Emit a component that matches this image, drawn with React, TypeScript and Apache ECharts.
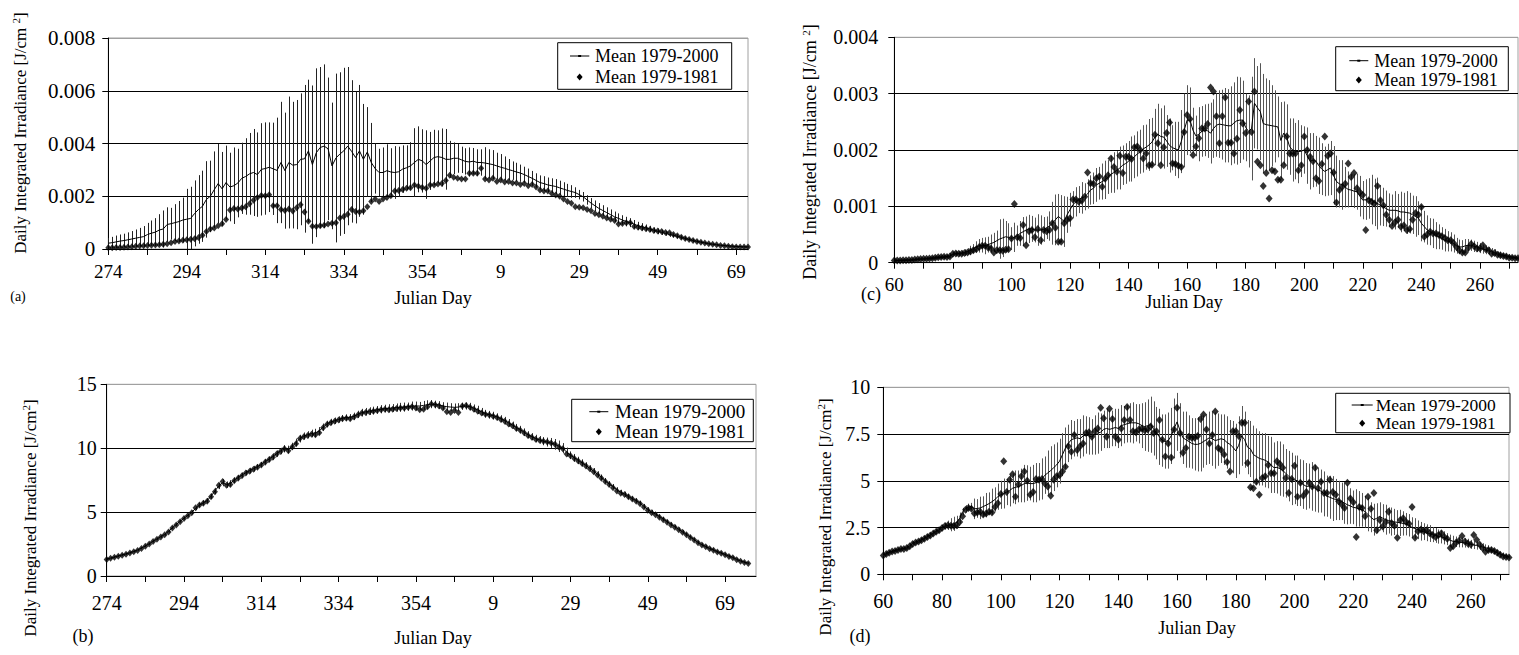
import React, { useEffect, useRef } from "react";
import * as echarts from "echarts";

const FONT = "Liberation Serif, Times New Roman, serif";
const range = (a: number, b: number) => Array.from({ length: b - a + 1 }, (_, i) => a + i);

// Categories (Julian days)
const daysA = [...range(274, 365), ...range(1, 72)].map(String);
const daysB = [...range(274, 365), ...range(1, 77)].map(String);
const daysCD = range(60, 273).map(String);

// Panel (a): values in units of 1e-4 J/cm2
const meanA_e4 = [
  2.2, 2.4, 2.7, 3.0, 3.2, 3.5, 3.8, 4.1, 4.4, 4.7,
  5.5, 6.0, 6.4, 7.2, 7.6, 9.3, 9.6, 10.0, 10.4, 11.0,
  11.3, 11.6, 13.5, 15.0, 16.2, 18.8, 20.0, 22.5, 24.8, 22.8,
  25.2, 23.5, 24.0, 25.0, 26.8, 27.5, 28.5, 29.0, 28.2, 30.2,
  30.5, 31.0, 30.4, 29.8, 32.8, 29.7, 32.8, 31.8, 32.0, 34.0,
  34.2, 37.2, 32.0, 36.5, 38.5, 39.0, 38.0, 31.5, 34.5, 36.0,
  37.2, 39.0, 37.0, 34.7, 37.2, 34.0, 36.8, 32.8, 30.5, 29.0,
  29.0, 29.7, 29.2, 29.0, 29.3, 30.3, 30.8, 31.5, 32.8, 34.0,
  33.4, 32.0, 33.4, 34.7, 35.0, 34.7, 34.0, 34.0, 34.4, 34.4,
  33.8, 33.2, 33.0, 33.3, 32.8, 32.8, 32.6, 32.3, 32.0, 31.5,
  31.0, 30.6, 30.1, 29.7, 29.2, 28.8, 28.2, 27.5, 26.8, 26.0,
  25.2, 24.8, 24.3, 24.0, 23.7, 23.2, 22.7, 22.2, 21.8, 21.4,
  20.6, 19.8, 18.6, 17.4, 16.4, 15.4, 14.6, 13.8, 13.0, 12.2,
  11.6, 11.0, 10.4, 10.0, 9.4, 8.8, 8.4, 8.0, 7.6, 7.1,
  6.7, 6.3, 5.9, 5.5, 5.2, 4.8, 4.4, 4.0, 3.6, 3.2,
  2.9, 2.6, 2.3, 2.0, 1.8, 1.6, 1.4, 1.3, 1.2, 1.1,
  1.0, 0.9, 0.8, 0.8,
];
const stdA_e4 = [
  2.0, 2.2, 2.4, 2.5, 2.6, 2.8, 3.0, 3.3, 3.6, 4.0,
  4.4, 4.8, 5.3, 6.0, 7.0, 6.5, 6.0, 7.0, 7.8, 8.5,
  11.5, 12.0, 12.5, 13.0, 13.5, 14.5, 13.5, 14.5, 15.0, 14.0,
  14.0, 13.0, 14.5, 13.0, 13.5, 14.5, 15.5, 16.5, 16.0, 17.5,
  17.5, 17.0, 17.5, 20.0, 23.0, 22.0, 25.0, 24.0, 24.5, 25.0,
  28.0, 27.0, 30.0, 32.0, 30.5, 31.0, 27.0, 24.0, 32.0, 31.0,
  31.5, 30.0, 27.0, 25.0, 25.0, 21.0, 17.0, 15.0, 9.5, 9.0,
  9.5, 10.0, 9.0, 10.0, 9.5, 9.0, 8.5, 9.0, 13.0, 12.5,
  12.0, 13.0, 11.0, 10.5, 10.0, 11.0, 11.5, 7.0, 6.0, 5.5,
  5.0, 5.0, 5.5, 5.0, 5.0, 5.0, 6.0, 5.5, 5.5, 5.0,
  5.0, 4.5, 4.0, 3.5, 3.5, 3.2, 3.0, 3.0, 2.8, 2.7,
  2.7, 2.8, 2.8, 2.8, 2.8, 2.7, 2.6, 2.5, 2.4, 2.0,
  1.8, 1.8, 1.8, 1.9, 2.0, 2.0, 2.0, 2.0, 2.0, 2.0,
  1.9, 1.8, 1.8, 1.7, 1.6, 1.5, 1.4, 1.3, 1.2, 1.1,
  1.1, 1.0, 0.9, 0.9, 0.8, 0.8, 0.7, 0.7, 0.6, 0.6,
  0.5, 0.5, 0.4, 0.4, 0.4, 0.3, 0.3, 0.3, 0.3, 0.2,
  0.2, 0.2, 0.2, 0.2,
];
const diamA_e4 = [
  0.5, 0.5, 0.6, 0.6, 0.7, 0.8, 0.9, 1.0, 1.1, 1.2,
  1.3, 1.4, 1.5, 1.6, 1.8, 2.0, 2.4, 2.8, 3.0, 3.3,
  3.5, 3.7, 3.9, 4.4, 5.2, 6.6, 7.6, 8.0, 8.8, 9.6,
  11.2, 14.8, 15.4, 15.2, 15.5, 16.0, 17.2, 18.5, 19.5, 20.3,
  20.2, 20.6, 16.4, 16.4, 15.0, 14.6, 15.2, 14.4, 15.6, 16.8,
  14.0, 10.5, 8.6, 8.5, 8.8, 9.0, 9.5, 9.8, 10.0, 11.8,
  12.3, 13.2, 15.0, 14.2, 14.0, 14.5, 16.0, 18.0, 19.0, 18.0,
  19.0, 19.5, 20.2, 22.0, 22.2, 22.6, 23.0, 23.2, 24.3, 23.8,
  23.3, 23.0, 24.3, 24.3, 24.6, 24.8, 26.0, 28.0, 27.2, 26.8,
  26.5, 26.5, 28.7, 28.7, 28.7, 30.6, 26.5, 26.2, 26.8, 25.6,
  26.2, 25.4, 25.6, 25.0, 25.0, 24.5, 24.8, 24.0, 24.5, 23.5,
  22.4, 22.0, 22.0, 21.0, 20.5, 20.0, 19.0, 18.0, 17.3, 16.0,
  15.8, 15.6, 15.0, 14.5, 13.5, 13.0, 12.4, 11.8, 11.3, 10.8,
  9.5, 9.7, 10.0, 10.0, 8.5, 8.2, 8.0, 7.7, 7.4, 7.0,
  6.8, 6.6, 6.3, 6.2, 5.5, 5.0, 4.5, 4.0, 3.6, 3.2,
  2.8, 2.6, 2.3, 2.0, 1.8, 1.6, 1.3, 1.2, 1.0, 0.9,
  0.8, 0.8, 0.8, 0.8,
];

// Panel (b): J/cm2
const meanB = [
  1.33, 1.40, 1.48, 1.57, 1.65, 1.73, 1.82, 1.92, 2.04, 2.18,
  2.35, 2.52, 2.72, 2.90, 3.08, 3.25, 3.50, 3.78, 4.02, 4.28,
  4.52, 4.75, 4.98, 5.30, 5.55, 5.72, 5.90, 6.25, 6.65, 7.05,
  7.30, 7.15, 7.25, 7.50, 7.70, 7.90, 8.08, 8.25, 8.40, 8.55,
  8.72, 8.95, 9.15, 9.35, 9.58, 9.78, 9.95, 9.90, 10.15, 10.45,
  10.75, 10.95, 11.05, 11.15, 11.20, 11.35, 11.65, 11.90, 12.05, 12.15,
  12.25, 12.35, 12.40, 12.42, 12.50, 12.65, 12.78, 12.85, 12.90, 12.95,
  13.00, 13.05, 13.10, 13.12, 13.15, 13.18, 13.20, 13.22, 13.25, 13.30,
  13.30, 13.30, 13.35, 13.40, 13.45, 13.42, 13.38, 13.30, 13.25, 13.22,
  13.20, 13.22, 13.28, 13.30, 13.25, 13.12, 13.00, 12.85, 12.70, 12.62,
  12.55, 12.45, 12.30, 12.15, 11.98, 11.80, 11.62, 11.45, 11.25, 11.05,
  10.90, 10.75, 10.65, 10.55, 10.48, 10.40, 10.30, 10.15, 10.00, 9.70,
  9.45, 9.25, 9.05, 8.85, 8.65, 8.42, 8.20, 7.95, 7.72, 7.45,
  7.20, 7.00, 6.75, 6.55, 6.40, 6.22, 6.05, 5.90, 5.70, 5.45,
  5.20, 5.00, 4.85, 4.65, 4.45, 4.25, 4.05, 3.85, 3.65, 3.45,
  3.25, 3.05, 2.85, 2.62, 2.45, 2.30, 2.15, 2.05, 1.90, 1.80,
  1.68, 1.55, 1.45, 1.30, 1.18, 1.08, 1.00,
];
const stdB = [
  0.08, 0.08, 0.08, 0.08, 0.08, 0.08, 0.08, 0.08, 0.08, 0.08,
  0.10, 0.10, 0.10, 0.10, 0.10, 0.10, 0.10, 0.10, 0.10, 0.10,
  0.12, 0.12, 0.15, 0.15, 0.18, 0.20, 0.20, 0.22, 0.25, 0.25,
  0.28, 0.25, 0.25, 0.22, 0.22, 0.20, 0.20, 0.22, 0.22, 0.20,
  0.20, 0.22, 0.22, 0.25, 0.25, 0.25, 0.28, 0.30, 0.28, 0.30,
  0.30, 0.28, 0.28, 0.30, 0.32, 0.30, 0.28, 0.25, 0.25, 0.25,
  0.25, 0.25, 0.25, 0.25, 0.28, 0.28, 0.30, 0.30, 0.30, 0.30,
  0.30, 0.32, 0.30, 0.32, 0.30, 0.32, 0.35, 0.35, 0.32, 0.35,
  0.35, 0.32, 0.35, 0.35, 0.32, 0.30, 0.30, 0.30, 0.32, 0.30,
  0.30, 0.30, 0.28, 0.28, 0.30, 0.30, 0.32, 0.30, 0.30, 0.30,
  0.30, 0.28, 0.28, 0.30, 0.30, 0.28, 0.28, 0.30, 0.30, 0.28,
  0.28, 0.30, 0.30, 0.32, 0.35, 0.40, 0.42, 0.45, 0.40, 0.35,
  0.30, 0.30, 0.28, 0.28, 0.25, 0.25, 0.25, 0.25, 0.22, 0.22,
  0.22, 0.20, 0.20, 0.20, 0.20, 0.20, 0.18, 0.18, 0.18, 0.18,
  0.18, 0.18, 0.16, 0.16, 0.16, 0.15, 0.15, 0.15, 0.14, 0.14,
  0.14, 0.13, 0.13, 0.12, 0.12, 0.12, 0.11, 0.11, 0.10, 0.10,
  0.10, 0.10, 0.09, 0.09, 0.08, 0.08, 0.08,
];
const diamB = [
  1.30, 1.38, 1.47, 1.55, 1.62, 1.70, 1.80, 1.90, 2.00, 2.15,
  2.32, 2.50, 2.70, 2.88, 3.05, 3.22, 3.45, 3.75, 4.00, 4.25,
  4.50, 4.72, 4.95, 5.35, 5.55, 5.70, 5.85, 6.20, 6.60, 7.10,
  7.40, 7.10, 7.15, 7.45, 7.65, 7.85, 8.05, 8.20, 8.35, 8.50,
  8.68, 8.90, 9.10, 9.30, 9.55, 9.75, 9.95, 9.80, 10.10, 10.35,
  10.75, 10.90, 11.00, 11.10, 11.05, 11.20, 11.60, 11.85, 12.00, 12.10,
  12.20, 12.30, 12.35, 12.30, 12.45, 12.60, 12.75, 12.80, 12.85, 12.90,
  12.95, 13.00, 13.05, 13.00, 13.05, 13.10, 13.15, 13.15, 13.20, 13.25,
  13.15, 13.00, 13.05, 13.25, 13.45, 13.40, 13.30, 13.15, 12.85, 12.80,
  12.95, 12.80, 13.30, 13.35, 13.20, 13.05, 12.90, 12.75, 12.65, 12.60,
  12.50, 12.40, 12.25, 12.10, 11.90, 11.75, 11.55, 11.40, 11.20, 11.00,
  10.85, 10.70, 10.62, 10.55, 10.48, 10.40, 10.30, 10.10, 9.95, 9.55,
  9.40, 9.20, 9.00, 8.80, 8.60, 8.40, 8.15, 7.90, 7.65, 7.40,
  7.15, 6.90, 6.65, 6.48, 6.38, 6.20, 6.02, 5.85, 5.65, 5.40,
  5.15, 4.95, 4.80, 4.60, 4.40, 4.20, 4.00, 3.82, 3.62, 3.42,
  3.22, 3.02, 2.82, 2.60, 2.43, 2.28, 2.13, 2.02, 1.88, 1.78,
  1.66, 1.53, 1.42, 1.28, 1.15, 1.05, 0.98,
];

// Panel (c): values in units of 1e-4 J/cm2
const meanC_e4 = [
  0.35, 0.38, 0.40, 0.42, 0.45, 0.48, 0.50, 0.55, 0.60, 0.62,
  0.65, 0.70, 0.75, 0.80, 0.85, 0.90, 0.95, 1.00, 1.10, 1.20,
  1.50, 1.60, 1.60, 1.70, 1.80, 2.00, 2.20, 2.50, 2.80, 3.00,
  3.10, 3.00, 3.20, 3.40, 3.60, 3.90, 4.20, 4.40, 4.60, 4.50,
  4.30, 4.50, 4.80, 5.20, 5.50, 5.80, 6.00, 6.00, 5.80, 5.80,
  5.80, 5.90, 6.20, 6.50, 7.00, 7.60, 8.20, 7.80, 7.30, 8.50,
  9.4, 10.3, 10.8, 11.2, 11.5, 11.7, 12.2, 12.9, 13.2, 13.8,
  14.1, 14.4, 14.7, 15.2, 15.7, 16.0, 16.4, 16.8, 17.3, 17.6,
  18.0, 18.4, 18.8, 19.3, 19.7, 20.2, 20.5, 20.9, 21.4, 22.3,
  22.8, 22.4, 22.3, 21.6, 20.8, 20.4, 20.2, 20.0, 21.5, 23.5,
  25.3, 25.3, 23.5, 22.5, 22.8, 23.3, 23.5, 23.4, 23.0, 23.8,
  24.4, 24.6, 24.5, 24.4, 24.3, 24.3, 24.8, 25.2, 25.3, 25.3,
  24.0, 23.3, 23.8, 28.3, 27.5, 26.8, 24.7, 24.5, 24.4, 24.3,
  24.2, 24.1, 21.7, 23.0, 22.3, 20.6, 20.0, 19.8, 19.7, 19.8,
  20.0, 19.0, 18.0, 18.2, 18.0, 17.2, 16.6, 16.2, 16.5, 16.8,
  15.5, 14.4, 14.0, 13.8, 13.4, 13.0, 12.9, 12.7, 12.6, 11.8,
  11.1, 11.2, 11.4, 11.2, 10.7, 10.5, 10.2, 9.9, 9.6, 9.3,
  9.3, 9.3, 9.2, 9.0, 9.0, 8.9, 8.8, 8.5, 8.2, 7.9,
  7.0, 6.4, 5.8, 5.5, 5.2, 4.8, 4.6, 4.3, 4.0, 3.8,
  3.7, 3.4, 3.0, 2.8, 2.8, 3.0, 3.1, 3.1, 2.9, 2.8,
  2.6, 2.4, 2.3, 2.1, 2.0, 1.8, 1.5, 1.4, 1.3, 1.2,
  1.1, 1.0, 0.9, 0.8,
];
const stdC_e4 = [
  0.1, 0.1, 0.1, 0.15, 0.15, 0.15, 0.2, 0.2, 0.2, 0.2,
  0.2, 0.25, 0.25, 0.3, 0.3, 0.3, 0.3, 0.35, 0.35, 0.4,
  0.4, 0.5, 0.5, 0.5, 0.6, 0.6, 0.8, 0.8, 1.0, 1.2,
  1.3, 1.5, 1.4, 1.6, 1.7, 1.8, 3.5, 3.4, 2.8, 2.5,
  2.0, 2.6, 1.8, 2.2, 2.6, 2.4, 2.5, 2.3, 2.2, 2.8,
  2.6, 2.2, 2.0, 2.6, 3.8, 4.5, 4.0, 4.2, 4.5, 3.2,
  3.0, 2.4, 2.6, 2.4, 2.8, 2.4, 2.6, 2.6, 2.8, 3.0,
  2.9, 3.2, 3.4, 3.0, 3.3, 3.6, 3.4, 3.8, 3.5, 3.6,
  3.6, 4.0, 3.8, 4.0, 3.9, 4.2, 4.0, 4.6, 4.3, 5.0,
  5.4, 5.0, 5.6, 4.6, 4.8, 4.0, 4.8, 5.0, 5.6, 6.5,
  6.2, 5.8, 4.0, 3.6, 4.8, 4.5, 4.6, 4.8, 5.4, 5.2,
  5.6, 6.0, 6.2, 6.6, 6.5, 7.0, 7.2, 7.8, 7.6, 7.0,
  6.0, 6.4, 9.2, 8.0, 7.4, 8.6, 8.8, 8.2, 8.0, 7.2,
  6.4, 5.4, 6.8, 5.6, 5.8, 5.0, 5.6, 5.0, 5.6, 4.6,
  4.2, 5.0, 5.0, 4.8, 4.5, 5.0, 4.6, 4.4, 4.6, 4.8,
  5.2, 4.6, 4.2, 4.4, 3.6, 3.2, 2.8, 3.0, 3.2, 3.6,
  3.4, 3.6, 3.6, 4.4, 4.2, 4.6, 3.6, 3.4, 3.2, 3.0,
  2.8, 3.4, 3.0, 3.6, 3.4, 3.8, 3.6, 3.4, 3.6, 3.0,
  3.2, 2.8, 2.6, 2.4, 2.6, 2.4, 2.2, 2.0, 2.0, 1.8,
  1.7, 1.6, 1.4, 1.3, 1.2, 1.2, 1.1, 1.0, 1.0, 0.9,
  0.9, 0.8, 0.8, 0.7, 0.6, 0.6, 0.5, 0.5, 0.4, 0.4,
  0.4, 0.3, 0.3, 0.3,
];
const diamC_e4 = [
  0.4, 0.4, 0.4, 0.45, 0.45, 0.5, 0.5, 0.55, 0.6, 0.65,
  0.7, 0.7, 0.75, 0.8, 0.9, 0.95, 1.0, 1.05, 1.0, 1.1,
  1.6, 1.65, 1.6, 1.6, 1.7, 1.8, 2.0, 2.2, 2.4, 2.8,
  3.0, 3.0, 2.7, 2.5, 1.8, 2.2, 2.2, 2.1, 2.3, 2.4,
  4.3, 10.4, 4.5, 4.4, 6.7, 3.1, 5.6, 5.8, 4.5, 6.0,
  4.0, 5.8, 5.6, 5.8, 7.0, 6.2, 3.7, 3.7, 7.0, 7.6,
  7.9, 11.2, 11.2, 10.8, 11.0, 11.7, 16.0, 14.1, 14.0, 15.0,
  15.3, 13.5, 14.9, 15.5, 18.5, 17.0, 16.2, 19.0, 15.9, 18.8,
  18.8, 18.4, 20.5, 20.6, 20.0, 18.5, 19.4, 17.3, 17.4, 22.7,
  21.2, 17.3, 20.5, 23.0, 24.9, 17.6, 17.5, 17.2, 17.0, 23.2,
  26.2, 25.5, 19.1, 20.6, 22.1, 23.8, 23.8, 24.6, 31.1, 30.4,
  26.0, 21.2, 26.0, 29.3, 21.3, 21.3, 19.4, 22.0, 27.1, 24.7,
  23.0, 28.6, 23.2, 30.4, 17.9, 17.3, 13.6, 15.9, 11.4, 16.4,
  16.2, 14.7, 14.7, 17.3, 22.4, 19.4, 19.4, 19.4, 16.4, 17.3,
  22.4, 20.0, 18.8, 18.0, 15.0, 14.5, 17.5, 22.4, 19.0, 19.4,
  16.0, 10.7, 12.9, 13.5, 14.0, 17.6, 15.2, 15.9, 13.2, 12.5,
  12.0, 5.8, 11.1, 10.8, 10.5, 13.6, 11.1, 10.2, 8.5, 7.6,
  6.5, 7.2, 7.6, 6.4, 6.6, 5.8, 6.0, 7.6, 8.8, 8.5,
  9.9, 4.6, 5.0, 5.5, 5.2, 5.2, 4.9, 4.7, 4.4, 4.0,
  4.0, 3.5, 2.8, 2.2, 1.8, 1.8, 2.6, 3.3, 2.9, 2.5,
  2.5, 3.1, 2.4, 2.2, 1.6, 1.7, 1.4, 1.3, 1.2, 1.1,
  0.9, 0.9, 0.8, 0.8,
];

// Panel (d): J/cm2
const meanD = [
  1.05, 1.10, 1.18, 1.22, 1.28, 1.32, 1.36, 1.38, 1.42, 1.52,
  1.65, 1.72, 1.78, 1.85, 1.92, 2.02, 2.10, 2.20, 2.30, 2.38,
  2.50, 2.58, 2.62, 2.65, 2.70, 2.78, 3.00, 3.35, 3.50, 3.60,
  3.62, 3.50, 3.52, 3.55, 3.62, 3.70, 3.78, 3.88, 4.00, 4.15,
  4.25, 4.32, 4.40, 4.48, 4.60, 4.65, 4.70, 4.75, 4.85, 4.88,
  4.85, 4.85, 4.90, 4.95, 5.10, 5.30, 5.42, 5.55, 5.70, 5.85,
  6.05, 6.40, 6.75, 7.00, 7.20, 7.25, 7.30, 7.25, 7.40, 7.45,
  7.40, 7.35, 7.45, 7.55, 7.60, 7.75, 7.80, 7.75, 7.80, 7.85,
  7.80, 7.95, 8.00, 8.05, 8.10, 8.10, 8.10, 8.05, 7.95, 7.90,
  7.95, 8.00, 7.80, 7.55, 7.35, 7.15, 7.10, 7.15, 7.40, 7.80,
  8.15, 7.70, 7.30, 7.20, 7.10, 7.00, 6.95, 6.95, 7.00, 7.10,
  7.20, 7.30, 7.25, 7.15, 7.20, 7.25, 7.20, 7.05, 6.95, 6.80,
  6.60, 6.90, 7.40, 7.20, 6.80, 6.70, 6.40, 6.30, 6.20, 6.15,
  6.10, 6.00, 5.85, 5.70, 5.72, 5.65, 5.55, 5.40, 5.25, 5.10,
  5.05, 5.00, 4.90, 4.80, 4.70, 4.72, 4.70, 4.60, 4.50, 4.45,
  4.30, 4.18, 4.12, 4.05, 4.00, 3.95, 3.90, 3.80, 3.72, 3.65,
  3.58, 3.55, 3.50, 3.45, 3.35, 3.20, 3.05, 2.92, 3.00, 3.10,
  3.00, 2.92, 2.88, 2.82, 2.80, 2.78, 2.75, 2.72, 2.68, 2.62,
  2.50, 2.45, 2.38, 2.30, 2.28, 2.22, 2.18, 2.12, 2.08, 2.02,
  2.00, 1.95, 1.88, 1.82, 1.76, 1.74, 1.72, 1.70, 1.68, 1.65,
  1.60, 1.57, 1.54, 1.50, 1.46, 1.42, 1.38, 1.30, 1.22, 1.15,
  1.08, 1.03, 0.98, 0.93,
];
const stdD = [
  0.08, 0.08, 0.08, 0.08, 0.08, 0.08, 0.08, 0.08, 0.10, 0.10,
  0.10, 0.10, 0.10, 0.10, 0.10, 0.12, 0.12, 0.12, 0.14, 0.15,
  0.15, 0.18, 0.25, 0.35, 0.38, 0.35, 0.30, 0.20, 0.20, 0.18,
  0.20, 0.55, 0.50, 0.60, 0.55, 0.65, 0.60, 0.70, 0.65, 0.70,
  0.75, 0.80, 0.70, 0.85, 0.80, 0.90, 0.85, 0.90, 1.00, 0.95,
  0.90, 1.00, 1.05, 1.00, 1.10, 1.00, 1.20, 1.30, 1.25, 1.20,
  1.20, 1.15, 1.10, 1.00, 1.05, 0.95, 1.00, 1.05, 1.10, 1.00,
  1.00, 0.95, 1.05, 1.10, 1.00, 1.00, 1.05, 1.00, 0.95, 1.00,
  1.05, 1.10, 1.00, 1.00, 1.05, 1.10, 1.00, 1.05, 1.20, 1.30,
  1.40, 1.50, 1.45, 1.40, 1.50, 1.40, 1.45, 1.50, 1.50, 1.60,
  1.55, 1.45, 1.40, 1.50, 1.40, 1.35, 1.40, 1.45, 1.50, 1.40,
  1.35, 1.40, 1.45, 1.50, 1.40, 1.30, 1.35, 1.40, 1.30, 1.40,
  1.45, 1.55, 1.60, 1.50, 1.45, 1.50, 1.55, 1.50, 1.45, 1.40,
  1.45, 1.40, 1.50, 1.35, 1.40, 1.45, 1.40, 1.30, 1.35, 1.40,
  1.30, 1.35, 1.25, 1.30, 1.25, 1.20, 1.30, 1.25, 1.20, 1.15,
  1.20, 1.10, 1.15, 1.20, 1.10, 1.05, 1.00, 1.10, 1.05, 0.95,
  0.90, 1.00, 0.95, 0.90, 0.85, 0.90, 0.80, 0.85, 0.80, 0.75,
  0.75, 0.80, 0.70, 0.75, 0.70, 0.65, 0.70, 0.65, 0.60, 0.60,
  0.55, 0.55, 0.50, 0.50, 0.45, 0.45, 0.45, 0.40, 0.40, 0.38,
  0.35, 0.35, 0.32, 0.30, 0.30, 0.28, 0.28, 0.26, 0.25, 0.25,
  0.24, 0.22, 0.22, 0.20, 0.20, 0.18, 0.18, 0.16, 0.15, 0.15,
  0.14, 0.13, 0.12, 0.12,
];
const diamD = [
  1.00, 1.08, 1.15, 1.22, 1.25, 1.30, 1.35, 1.35, 1.40, 1.50,
  1.62, 1.70, 1.75, 1.82, 1.90, 2.00, 2.08, 2.18, 2.28, 2.35,
  2.48, 2.58, 2.62, 2.60, 2.58, 2.62, 2.80, 3.10, 3.45, 3.55,
  3.50, 3.25, 3.30, 3.35, 3.20, 3.25, 3.35, 3.30, 3.60, 3.80,
  4.30, 6.05, 4.40, 5.05, 5.35, 4.15, 4.80, 5.25, 5.50, 5.00,
  4.25, 4.40, 5.10, 5.05, 5.10, 4.85, 4.70, 4.20, 5.05, 5.25,
  5.30, 5.50, 5.75, 6.85, 6.55, 7.45, 6.65, 6.85, 7.00, 7.55,
  7.60, 7.35, 7.65, 7.80, 8.90, 8.35, 7.35, 8.85, 8.30, 7.35,
  7.20, 7.80, 8.25, 8.95, 8.25, 7.65, 7.60, 7.75, 7.80, 7.70,
  7.75, 7.90, 7.55, 7.65, 8.25, 7.20, 6.30, 7.00, 6.25, 7.75,
  8.90, 7.55, 6.50, 6.75, 7.35, 7.30, 7.30, 7.40, 8.30, 8.55,
  7.75, 7.00, 7.45, 8.70, 6.75, 6.65, 6.40, 6.00, 5.50, 7.65,
  7.65, 7.40, 8.10, 8.10, 5.95, 4.65, 4.60, 4.95, 4.25, 5.15,
  5.25, 5.85, 5.40, 5.40, 6.05, 5.90, 5.70, 5.15, 4.35, 5.10,
  5.80, 4.15, 4.90, 4.20, 4.40, 4.90, 4.70, 5.70, 4.60, 4.95,
  4.35, 4.35, 5.05, 4.40, 4.25, 3.90, 3.75, 3.55, 4.90, 4.05,
  3.85, 2.00, 3.60, 3.55, 3.10, 4.15, 3.50, 4.35, 2.35, 2.90,
  2.55, 2.80, 3.35, 2.75, 2.60, 1.95, 2.90, 3.00, 2.80, 2.70,
  3.60, 1.95, 2.30, 2.40, 2.30, 2.35, 2.20, 2.10, 2.00, 2.10,
  2.20, 2.00, 1.90, 1.40, 1.50, 1.70, 1.80, 2.05, 1.75, 1.65,
  1.60, 2.10, 1.85, 1.60, 1.40, 1.20, 1.30, 1.30, 1.25, 1.15,
  1.05, 0.95, 0.92, 0.90,
];

const E4 = (arr: number[]) => arr.map((v) => v / 10000);

const GRAY = "#a0a0a0";

function makeErrRender(color: string) {
  return function (_params: any, api: any) {
    const x = api.value(0);
    const lo = api.coord([x, api.value(1)]);
    const hi = api.coord([x, api.value(2)]);
    const px = Math.round(lo[0]) + 0.5;
    return {
      type: "line",
      shape: { x1: px, y1: lo[1], x2: px, y2: hi[1] },
      style: { stroke: color, lineWidth: 1 },
    };
  };
}

function panelSeries(i: number, mean: number[], std: number[], diam: number[], sym: number, barColor: string) {
  return [
    {
      type: "custom",
      name: "err" + i,
      xAxisIndex: i,
      yAxisIndex: i,
      data: mean.map((m, k) => [k, m - std[k], m + std[k]]),
      renderItem: makeErrRender(barColor),
      encode: { x: 0, y: [1, 2] },
      z: 1,
      silent: true,
      clip: true,
    },
    {
      type: "line",
      name: "Mean 1979-2000",
      xAxisIndex: i,
      yAxisIndex: i,
      data: mean,
      symbol: "none",
      lineStyle: { color: "#000", width: 1 },
      z: 2,
      silent: true,
    },
    {
      type: "scatter",
      name: "Mean 1979-1981",
      xAxisIndex: i,
      yAxisIndex: i,
      data: diam.map((v, k) => [k, v]),
      symbol: "diamond",
      symbolSize: [sym, sym + 1],
      itemStyle: { color: "#000" },
      z: 3,
      silent: true,
    },
  ];
}

function xAx(grid: number, data: string[], fontSize: number, margin: number) {
  return {
    type: "category",
    gridIndex: grid,
    data,
    boundaryGap: false,
    axisLine: { show: true, lineStyle: { color: "#000", width: 1 } },
    axisTick: { show: true, interval: 9, length: 6, lineStyle: { color: "#000" } },
    axisLabel: { interval: 19, color: "#000", fontFamily: FONT, fontSize, margin },
    splitLine: { show: false },
  };
}

function yAx(grid: number, max: number, interval: number, fontSize: number, margin: number, n: number) {
  const colors = Array.from({ length: n }, (_, k) => (k === n - 1 ? GRAY : "#000"));
  return {
    type: "value",
    gridIndex: grid,
    min: 0,
    max,
    interval,
    axisLine: { show: true, lineStyle: { color: "#000", width: 1 } },
    axisTick: { show: true, length: 6, lineStyle: { color: "#000" } },
    axisLabel: { color: "#000", fontFamily: FONT, fontSize, margin },
    splitLine: { show: true, lineStyle: { color: colors, width: 1 } },
  };
}

function txt(x: number, y: number, text: string, fontSize: number, align = "center") {
  return {
    type: "text",
    x,
    y,
    z: 110,
    style: {
      text,
      fill: "#000",
      fontFamily: FONT,
      fontSize,
      align,
      textAlign: align,
      verticalAlign: "middle",
      textVerticalAlign: "middle",
    },
  };
}

function yTitle(x: number, y: number, fontSize: number, gap: boolean) {
  const text = gap
    ? "{m|Daily Integrated Irradiance [J/cm }{s|2}{m|]}"
    : "{m|Daily Integrated Irradiance [J/cm}{s|2}{m|]}";
  const sfs = Math.round(fontSize * 0.62);
  return {
    type: "text",
    x,
    y,
    rotation: Math.PI / 2,
    z: 110,
    style: {
      text,
      fill: "#000",
      align: "center",
      textAlign: "center",
      verticalAlign: "middle",
      textVerticalAlign: "middle",
      rich: {
        m: { fontFamily: FONT, fontSize, fill: "#000", lineHeight: fontSize + 2 },
        s: { fontFamily: FONT, fontSize: sfs, fill: "#000", verticalAlign: "top", lineHeight: sfs },
      },
    },
  };
}

function legendBox(bx: number, by: number, bw: number, bh: number, lx1: number, lx2: number, y1: number, y2: number, tx: number, fs: number) {
  const cx = (lx1 + lx2) / 2;
  return [
    { type: "rect", z: 100, shape: { x: bx, y: by, width: bw, height: bh }, style: { fill: "#fff", stroke: "#000", lineWidth: 1 } },
    { type: "line", z: 101, shape: { x1: lx1, y1: y1, x2: lx2, y2: y1 }, style: { stroke: "#000", lineWidth: 1 } },
    { type: "rect", z: 101, shape: { x: cx - 1.5, y: y1 - 1, width: 3, height: 2 }, style: { fill: "#000" } },
    { type: "polygon", z: 101, shape: { points: [[cx, y2 - 3.5], [cx + 3, y2], [cx, y2 + 3.5], [cx - 3, y2]] }, style: { fill: "#000" } },
    txt(tx, y1, "Mean 1979-2000", fs, "left"),
    txt(tx, y2, "Mean 1979-1981", fs, "left"),
  ];
}

const option: any = {
  animation: false,
  backgroundColor: "#fff",
  grid: [
    { left: 108.3, top: 38, width: 639.7, height: 211, show: true, borderColor: GRAY, borderWidth: 1 },
    { left: 106.7, top: 384.3, width: 649.3, height: 191.7, show: true, borderColor: GRAY, borderWidth: 1 },
    { left: 894.3, top: 37.3, width: 623.7, height: 225.4, show: true, borderColor: GRAY, borderWidth: 1 },
    { left: 883.3, top: 387.3, width: 625.7, height: 187, show: true, borderColor: GRAY, borderWidth: 1 },
  ],
  xAxis: [
    xAx(0, daysA, 19, 13),
    xAx(1, daysB, 20, 17),
    xAx(2, daysCD, 19, 12),
    xAx(3, daysCD, 20, 17),
  ],
  yAxis: [
    yAx(0, 0.008, 0.002, 21, 13, 5),
    yAx(1, 15, 5, 20, 10, 4),
    yAx(2, 0.004, 0.001, 20, 16, 5),
    yAx(3, 10, 2.5, 20, 13, 5),
  ],
  series: [
    ...panelSeries(0, E4(meanA_e4), E4(stdA_e4), E4(diamA_e4), 6, "#222"),
    ...panelSeries(1, meanB, stdB, diamB, 6, "#333"),
    ...panelSeries(2, E4(meanC_e4), E4(stdC_e4), E4(diamC_e4), 7, "#555"),
    ...panelSeries(3, meanD, stdD, diamD, 7, "#555"),
  ],
  graphic: [
    yTitle(20, 133, 17, true),
    yTitle(30, 518, 17, false),
    yTitle(810, 152, 18, true),
    yTitle(825, 517, 17, false),
    txt(433, 298, "Julian Day", 18),
    txt(433, 638, "Julian Day", 18),
    txt(1184, 302, "Julian Day", 18),
    txt(1197, 628, "Julian Day", 18),
    txt(18, 296, "(a)", 14),
    txt(83, 636, "(b)", 18),
    txt(871, 294, "(c)", 18),
    txt(860, 636, "(d)", 18),
    ...legendBox(557.7, 42.7, 174, 46.6, 570, 589.3, 56, 77, 595, 18),
    ...legendBox(571.7, 399.3, 181.6, 42.4, 589.3, 608.3, 411.7, 431.7, 615, 19),
    ...legendBox(1335.7, 46.7, 172.6, 44, 1349.3, 1368.3, 60.7, 80, 1374.3, 18),
    ...legendBox(1335.7, 393.3, 174.3, 39.4, 1351.7, 1372.7, 405, 423.3, 1375.7, 17.5),
  ],
};

export default function App() {
  const ref = useRef<HTMLDivElement>(null);
  useEffect(() => {
    if (!ref.current) return;
    const chart = echarts.init(ref.current, undefined, { renderer: "svg" });
    chart.setOption(option);
    return () => chart.dispose();
  }, []);
  return (
    <div
      ref={ref}
      style={{ position: "fixed", left: 0, top: 0, width: 1519, height: 655, background: "#fff" }}
    />
  );
}
